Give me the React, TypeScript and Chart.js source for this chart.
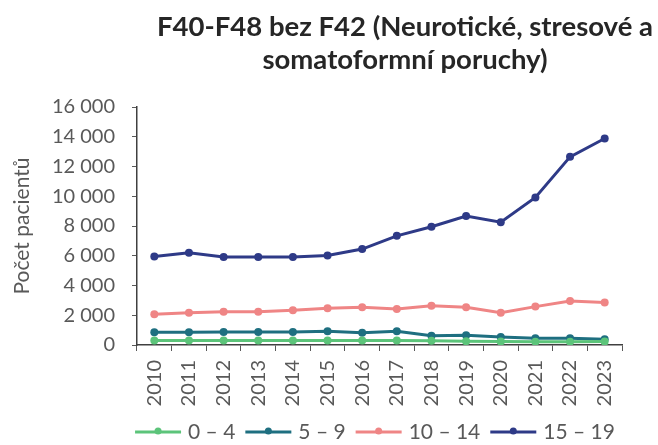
import React, { useEffect, useRef } from "react";
import { Chart, registerables } from "chart.js";

Chart.register(...registerables);

const titleLines = ["F40-F48 bez F42 (Neurotické, stresové a", "somatoformní poruchy)"];
const yAxisTitle = "Počet pacientů";
const years = ["2010", "2011", "2012", "2013", "2014", "2015", "2016", "2017", "2018", "2019", "2020", "2021", "2022", "2023"];
const seriesNames = ["0 – 4", "5 – 9", "10 – 14", "15 – 19"];
const age0to4 = [300, 300, 300, 300, 300, 300, 300, 300, 280, 260, 230, 220, 220, 230];
const age5to9 = [860, 860, 870, 870, 870, 930, 830, 930, 630, 660, 530, 450, 450, 390];
const age10to14 = [2060, 2170, 2230, 2240, 2340, 2470, 2530, 2420, 2640, 2530, 2170, 2580, 2950, 2850];
const age15to19 = [5950, 6200, 5920, 5920, 5920, 6020, 6450, 7340, 7950, 8670, 8250, 9920, 12650, 13880];
const seriesColors = ["#5cc47a", "#1e6f80", "#ef8585", "#2e3a87"];
const yMax = 16000;
const yStep = 2000;

const FONT = "Lato, 'Open Sans', sans-serif";

const titlePlugin = {
  id: "customTitle",
  afterDraw(chart: any) {
    const ctx = chart.ctx;
    ctx.save();
    ctx.font = `bold 27.5px ${FONT}`;
    ctx.fillStyle = "#262626";
    ctx.textAlign = "center";
    ctx.textBaseline = "alphabetic";
    ctx.fillText(titleLines[0], 405, 36);
    ctx.fillText(titleLines[1], 405, 69);
    ctx.restore();
  },
};

const legendPlugin = {
  id: "lineLegend",
  afterDraw(chart: any) {
    const ctx = chart.ctx;
    const y = 432;
    const lineW = 46;
    const gap = 7;
    const itemGap = 10;
    ctx.save();
    ctx.font = `21px ${FONT}`;
    const widths = seriesNames.map((n) => lineW + gap + ctx.measureText(n).width);
    const total = widths.reduce((a, b) => a + b, 0) + itemGap * (seriesNames.length - 1);
    let x = 375 - total / 2;
    seriesNames.forEach((name, i) => {
      const c = seriesColors[i];
      ctx.strokeStyle = c;
      ctx.lineWidth = 3;
      ctx.beginPath();
      ctx.moveTo(x, y);
      ctx.lineTo(x + lineW, y);
      ctx.stroke();
      ctx.fillStyle = c;
      ctx.beginPath();
      ctx.arc(x + lineW / 2, y - 1, 3.5, 0, Math.PI * 2);
      ctx.fill();
      ctx.fillStyle = "#595959";
      ctx.textAlign = "left";
      ctx.textBaseline = "middle";
      ctx.fillText(name, x + lineW + gap, y);
      x += widths[i] + itemGap;
    });
    ctx.restore();
  },
};

export default function App() {
  const ref = useRef<HTMLCanvasElement | null>(null);
  useEffect(() => {
    if (!ref.current) return;
    const datasets = [age0to4, age5to9, age10to14, age15to19].map((d, i) => ({
      label: seriesNames[i],
      data: d,
      borderColor: seriesColors[i],
      backgroundColor: seriesColors[i],
      borderWidth: 3,
      pointRadius: 4,
      pointHoverRadius: 4,
      pointBorderWidth: 0,
      tension: 0,
    }));
    const chart = new Chart(ref.current, {
      type: "line",
      data: { labels: years, datasets },
      options: {
        animation: false,
        responsive: false,
        maintainAspectRatio: false,
        layout: { padding: { left: 0, right: 36, top: 107, bottom: 35 } },
        plugins: {
          legend: { display: false },
          tooltip: { enabled: false },
          title: { display: false },
        },
        scales: {
          x: {
            offset: true,
            grid: {
              offset: true,
              drawOnChartArea: false,
              drawTicks: true,
              tickLength: 6,
              color: "#595959",
            },
            border: { display: true, color: "#404040", width: 1.5 },
            ticks: {
              color: "#595959",
              font: { family: FONT, size: 20 },
              minRotation: 90,
              maxRotation: 90,
              padding: 9,
              autoSkip: false,
            },
            afterFit(scale: any) {
              scale.height = 65;
            },
          },
          y: {
            min: 0,
            max: yMax,
            grid: {
              drawOnChartArea: false,
              drawTicks: true,
              tickLength: 5,
              color: "#595959",
            },
            border: { display: true, color: "#404040", width: 1.5 },
            ticks: {
              stepSize: yStep,
              color: "#595959",
              font: { family: FONT, size: 20 },
              padding: 17,
              callback: (v: any) => String(v).replace(/\B(?=(\d{3})+(?!\d))/g, " "),
            },
            title: {
              display: true,
              text: yAxisTitle,
              color: "#595959",
              font: { family: FONT, size: 21 },
              padding: { top: 10, bottom: 0 },
            },
            afterFit(scale: any) {
              scale.width = 137;
            },
          },
        },
      },
      plugins: [titlePlugin, legendPlugin],
    });
    return () => chart.destroy();
  }, []);
  return (
    <div style={{ position: "fixed", left: 0, top: 0, width: 658, height: 445, background: "#fff" }}>
      <canvas ref={ref} width={658} height={445} style={{ width: 658, height: 445, display: "block" }} />
    </div>
  );
}
